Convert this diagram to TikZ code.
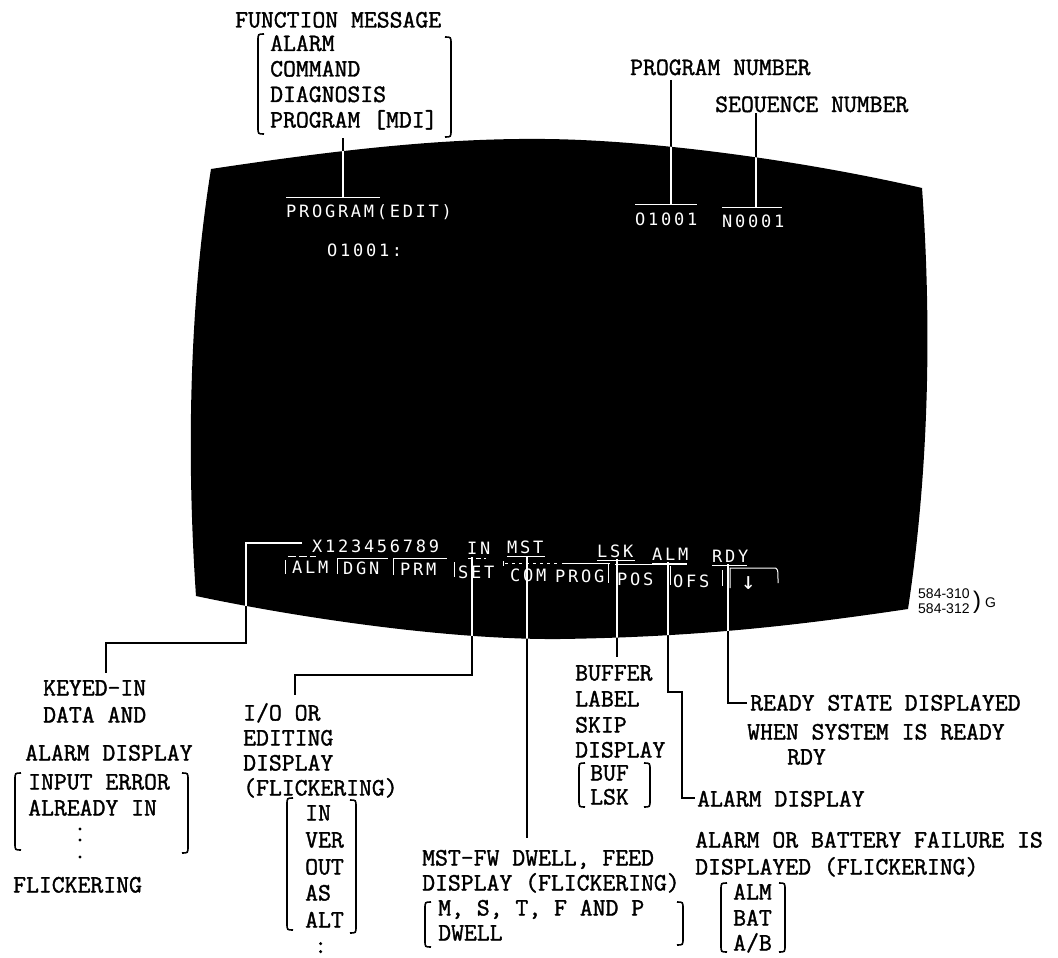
\documentclass[tikz,border=0pt]{standalone}
\usepackage{fontspec}
\newfontfamily\twfont[FakeBold=1.4]{Latin Modern Mono}
\newfontfamily\crtfont[LetterSpace=16]{DejaVu Sans Mono}
\newfontfamily\labfont{Liberation Sans}
\tikzset{
  tw/.style={font=\fontsize{25}{25}\selectfont\twfont, anchor=base west, inner sep=0pt},
  scr/.style={font=\fontsize{17}{17}\selectfont\crtfont, text=white, anchor=base west, inner sep=0pt},
  blkline/.style={line width=2pt, black},
  whtline/.style={line width=1.2pt, white},
  skline/.style={line width=1pt, white},
  brk/.style={line width=1.6pt, black},
}
\newcommand\LBrk[3]{\draw[brk] (#1+6,#2) .. controls (#1,#2) .. (#1,#2+7) -- (#1,#3-7) .. controls (#1,#3) .. (#1+6,#3);}
\newcommand\RBrk[3]{\draw[brk] (#1-6,#2) .. controls (#1,#2) .. (#1,#2+7) -- (#1,#3-7) .. controls (#1,#3) .. (#1-6,#3);}
\newcommand\ScreenPath{(196,596) .. controls (186,450) and (190,300) .. (211,169) .. controls (350,148) and (450,138) .. (545,139) .. controls (650,140) and (800,160) .. (922,188) .. controls (930,300) and (932,450) .. (908,609) .. controls (800,625) and (700,637) .. (560,639) .. controls (450,640) and (300,618) .. cycle}
\newcommand\LeaderPaths[1]{%
  \draw[#1] (f1) -- (f2);
  \draw[#1] (p1) -- (p2);
  \draw[#1] (s1) -- (s2);
  \draw[#1] (k1) -- (k2) -- (k3) -- (k4) -- (k5);
  \draw[#1] (i1) -- (i2) -- (i3) -- (i4);
  \draw[#1] (m1) -- (m2);
  \draw[#1] (l1) -- (l2);
  \draw[#1] (a1) -- (a2) -- (a3) -- (a4) -- (a5);
  \draw[#1] (r1) -- (r2) -- (r3);
}
\begin{document}
\begin{tikzpicture}[x=1pt,y=-1pt]
\useasboundingbox (0,0) rectangle (1058,958);
% screen
\fill[black] \ScreenPath;
% leader coordinates
\coordinate (f1) at (343,138); \coordinate (f2) at (343,197);
\coordinate (p1) at (671,80);  \coordinate (p2) at (671,204);
\coordinate (s1) at (756,113); \coordinate (s2) at (756,207);
\coordinate (k1) at (302,543); \coordinate (k2) at (246,543); \coordinate (k3) at (246,643);
\coordinate (k4) at (106,643); \coordinate (k5) at (106,673);
\coordinate (i1) at (472,557); \coordinate (i2) at (472,675); \coordinate (i3) at (295,675); \coordinate (i4) at (295,695);
\coordinate (m1) at (527,556); \coordinate (m2) at (527,838);
\coordinate (l1) at (617,559); \coordinate (l2) at (617,657);
\coordinate (a1) at (668,562); \coordinate (a2) at (668,692); \coordinate (a3) at (682,692);
\coordinate (a4) at (682,798); \coordinate (a5) at (695,798);
\coordinate (r1) at (728,564); \coordinate (r2) at (728,703); \coordinate (r3) at (747,703);
\LeaderPaths{blkline}
\begin{scope}
  \clip \ScreenPath;
  \LeaderPaths{whtline}
\end{scope}
% screen texts
\node[scr] (pe) at (286,217) {PROGRAM(EDIT)};
\node[scr] (o1) at (327,256) {O1001:};
\node[scr] (pnum) at (635,225) {O1001};
\node[scr] (snum) at (722,227) {N0001};
\draw[skline] (286,197) -- (380,197);
\draw[skline] (635,204) -- (697,204);
\draw[skline] (722,207) -- (782,207);
% status row
\node[scr] (xk) at (312,552) {X123456789};
\node[scr] (sin) at (467,554) {IN};
\node[scr] (smst) at (507,553) {MST};
\node[scr] (slsk) at (597,557) {LSK};
\node[scr] (salm) at (652,560) {ALM};
\node[scr] (srdy) at (712,562) {RDY};
\draw[skline, dash pattern=on 5pt off 3pt] (468,558) -- (486,558);
\draw[skline] (507,556) -- (545,556);
\draw[skline] (597,560) -- (635,560);
\draw[skline] (652,563) -- (687,563);
\draw[skline] (712,565) -- (747,565);
\draw[skline, dash pattern=on 3pt off 4pt] (505,563) -- (560,563);
% soft keys
\node[scr] (sk1) at (292,573) {ALM};
\node[scr] (sk2) at (343,574) {DGN};
\node[scr] (sk3) at (400,575) {PRM};
\node[scr] (sk4) at (458,578) {SET};
\node[scr] (sk5) at (510,581) {COM};
\node[scr] (sk6) at (555,582) {PROG};
\node[scr] (sk7) at (617,585) {POS};
\node[scr] (sk8) at (673,587) {OFS};
\node[scr, font=\fontsize{24}{24}\selectfont\crtfont] (sk9) at (741,589) {↓};
\draw[skline] (285,560) -- (285,574);
\draw[skline, dash pattern=on 8pt off 3pt] (288,556) -- (316,556);
\draw[skline] (337,574) -- (337,558) -- (388,558);
\draw[skline] (393,575) -- (393,558) -- (447,558);
\draw[skline] (454,562) -- (454,577);
\draw[skline] (503,561) -- (503,566);
\draw[skline] (562,563) -- (610,563);
\draw[skline] (608,564) -- (608,583);
\draw[skline] (615,564) -- (687,564);
\draw[skline] (670,566) -- (670,585);
\draw[skline] (722,570) -- (722,586);
\draw[skline] (730,588) -- (730,568) -- (773,568) .. controls (778,568) .. (778,583);
% top-left labels
\node[tw] (fm) at (235,27.5) {FUNCTION MESSAGE};
\node[tw] (fm1) at (270,51) {ALARM};
\node[tw] (fm2) at (270,76.5) {COMMAND};
\node[tw] (fm3) at (270,102) {DIAGNOSIS};
\node[tw] (fm4) at (270,127.5) {PROGRAM [MDI]};
\LBrk{258}{34}{134}
\RBrk{451}{37}{137}
% top-right labels
\node[tw] (pn) at (630,75) {PROGRAM NUMBER};
\node[tw] (sn) at (715,112) {SEOUENCE NUMBER};
% figure code
\node[font=\fontsize{14}{15}\selectfont\labfont, anchor=base west, inner sep=0pt] (c1) at (918,598) {584-310};
\node[font=\fontsize{14}{15}\selectfont\labfont, anchor=base west, inner sep=0pt] (c2) at (918,613) {584-312};
\node[font=\fontsize{24}{24}\selectfont\labfont, anchor=base west, inner sep=0pt] (cp) at (973,608) {)};
\node[font=\fontsize{14}{15}\selectfont\labfont, anchor=base west, inner sep=0pt] (cg) at (985,607) {G};
% keyed-in group
\node[tw] (kd1) at (43,695.5) {KEYED-IN};
\node[tw] (kd2) at (43,722.5) {DATA AND};
\node[tw] (kd3) at (25,760.5) {ALARM DISPLAY};
\node[tw] (kd4) at (28,789.5) {INPUT ERROR};
\node[tw] (kd5) at (28,815.5) {ALREADY IN};
\fill (80,829) circle (1.7pt) (80,840) circle (1.7pt) (80,857) circle (1.7pt);
\LBrk{15}{773}{850}
\RBrk{188}{773}{853}
\node[tw] (kd6) at (13,892.5) {FLICKERING};
% I/O group
\node[tw] (io1) at (243,720.5) {I/O OR};
\node[tw] (io2) at (243,745.5) {EDITING};
\node[tw] (io3) at (243,770.5) {DISPLAY};
\node[tw] (io4) at (243,795.5) {(FLICKERING)};
\node[tw] (io5) at (305,820.5) {IN};
\node[tw] (io6) at (305,847.5) {VER};
\node[tw] (io7) at (305,874.5) {OUT};
\node[tw] (io8) at (305,900.5) {AS};
\node[tw] (io9) at (305,927.5) {ALT};
\node[tw] (io10) at (314,953) {:};
\LBrk{287}{798}{930}
\RBrk{356}{800}{933}
% MST group
\node[tw] (ms1) at (422,865.5) {MST-FW DWELL, FEED};
\node[tw] (ms2) at (422,890.5) {DISPLAY (FLICKERING)};
\node[tw] (ms3) at (438,915.5) {M, S, T, F AND P};
\node[tw] (ms4) at (438,940.5) {DWELL};
\LBrk{425}{902}{947}
\RBrk{683}{902}{945}
% buffer group
\node[tw] (bf1) at (575,680.5) {BUFFER};
\node[tw] (bf2) at (575,706.5) {LABEL};
\node[tw] (bf3) at (575,732.5) {SKIP};
\node[tw] (bf4) at (575,757.5) {DISPLAY};
\node[tw] (bf5) at (590,780.5) {BUF};
\node[tw] (bf6) at (590,804.5) {LSK};
\LBrk{579}{763}{807}
\RBrk{650}{763}{807}
% alarm display
\node[tw] (ad) at (697,806.5) {ALARM DISPLAY};
% ready group
\node[tw] (rd1) at (750,710.5) {READY STATE DISPLAYED};
\node[tw] (rd2) at (747,739.5) {WHEN SYSTEM IS READY};
\node[tw] (rd3) at (787,764.5) {RDY};
% alarm/battery group
\node[tw] (ab1) at (695,847.5) {ALARM OR BATTERY FAILURE IS};
\node[tw] (ab2) at (695,874.5) {DISPLAYED (FLICKERING)};
\node[tw] (ab3) at (733,899.5) {ALM};
\node[tw] (ab4) at (733,925.5) {BAT};
\node[tw] (ab5) at (733,950.5) {A/B};
\LBrk{721}{883}{952}
\RBrk{785}{883}{952}
\end{tikzpicture}
\end{document}
